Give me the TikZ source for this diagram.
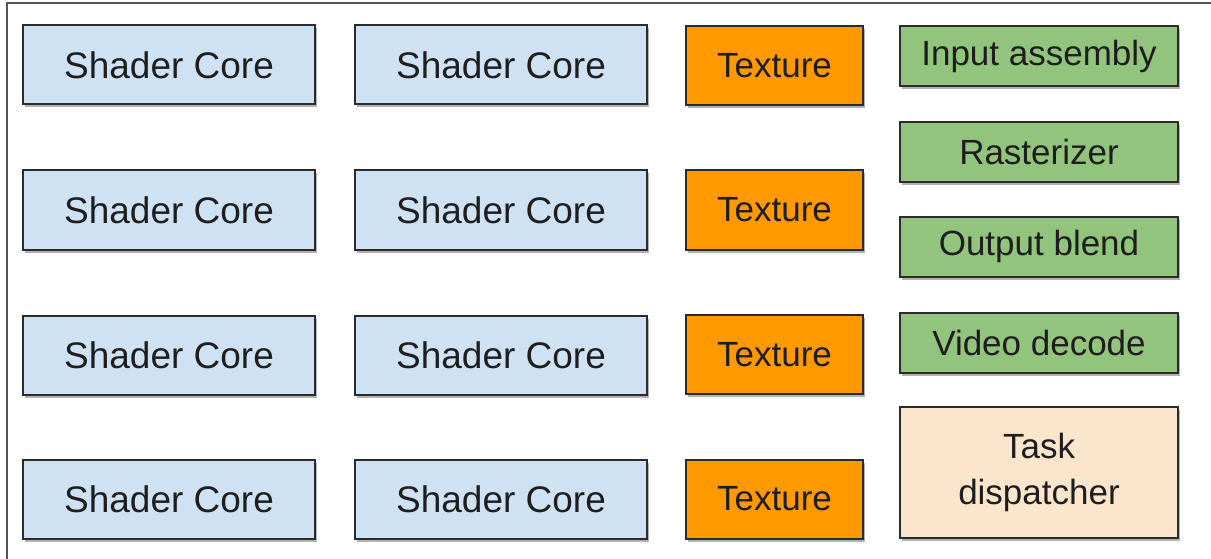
\documentclass[tikz,border=0pt]{standalone}
\usepackage{fontspec}
\setmainfont{Liberation Sans}
\usetikzlibrary{shadows}
\definecolor{shaderblue}{HTML}{CFE2F3}
\definecolor{texorange}{HTML}{FF9900}
\definecolor{fixgreen}{HTML}{93C47D}
\definecolor{taskpeach}{HTML}{FCE5CD}
\definecolor{edgedark}{HTML}{2B2B2B}
\definecolor{textdark}{HTML}{1E1E1E}
\definecolor{framegrey}{HTML}{555555}
\begin{document}
\begin{tikzpicture}[x=1pt,y=-1pt,
  unit/.style={draw=edgedark, line width=2pt, rectangle, inner sep=0pt,
    text=textdark, font=\fontsize{35}{46}\selectfont, align=center,
    drop shadow={shadow xshift=2pt, shadow yshift=-3pt, opacity=0.3, fill=black}},
  shader/.style={unit, fill=shaderblue, minimum width=292pt, minimum height=79pt,
    font=\fontsize{37}{46}\selectfont},
  texunit/.style={unit, fill=texorange, minimum width=177pt, minimum height=79pt},
  fixedfn/.style={unit, fill=fixgreen, minimum width=278pt, minimum height=60pt},
  taskbox/.style={unit, fill=taskpeach, minimum width=278pt, minimum height=131pt}]
\useasboundingbox (0,0) rectangle (1211,559);
\fill[white] (0,0) rectangle (1211,559);
\begin{scope}
\clip (0,0) rectangle (1211,559);
\draw[framegrey, line width=2pt] (7,3) rectangle (1230,580);
\end{scope}
% shader cores
\node[shader] (s11) at (169,65) {Shader Core};
\node[shader] (s12) at (501,65) {Shader Core};
\node[shader] (s21) at (169,210) {Shader Core};
\node[shader] (s22) at (501,210) {Shader Core};
\node[shader] (s31) at (169,355) {Shader Core};
\node[shader] (s32) at (501,355) {Shader Core};
\node[shader] (s41) at (169,499) {Shader Core};
\node[shader] (s42) at (501,499) {Shader Core};
% textures
\node[texunit] (t1) at (774.5,66) {Texture};
\node[texunit] (t2) at (774.5,210) {Texture};
\node[texunit] (t3) at (774.5,354.5) {Texture};
\node[texunit] (t4) at (774.5,499) {Texture};
% fixed function
\node[fixedfn] (ia) at (1039,56) {Input assembly};
\node[fixedfn] (ra) at (1039,152) {Rasterizer};
\node[fixedfn] (ob) at (1039,246.5) {Output blend};
\node[fixedfn] (vd) at (1039,343) {Video decode};
\node[taskbox] (td) at (1039,472.5) {Task\\dispatcher};
\end{tikzpicture}
\end{document}
